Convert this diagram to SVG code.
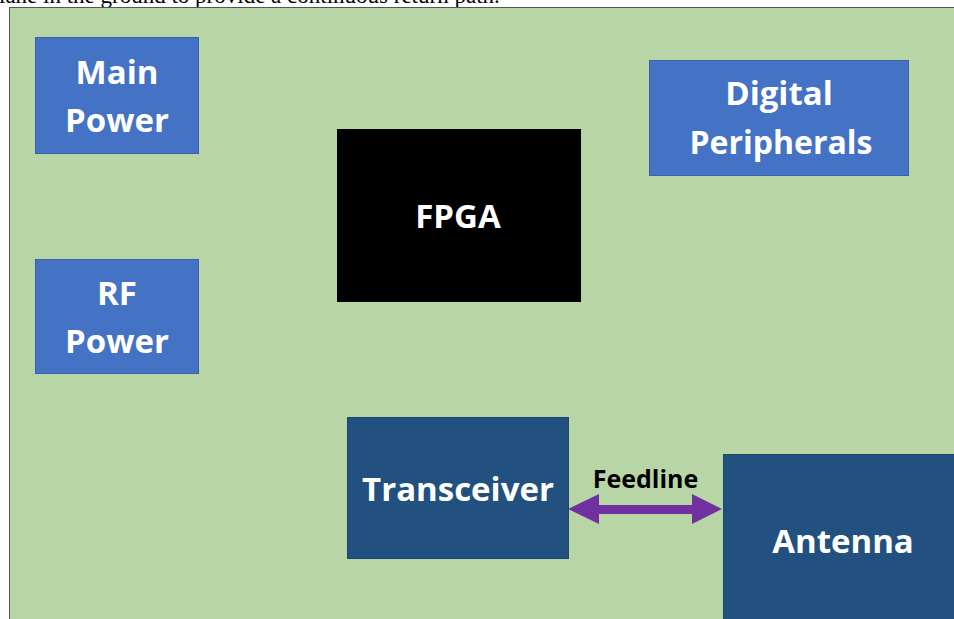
<svg xmlns="http://www.w3.org/2000/svg" width="954" height="619" viewBox="0 0 954 619">
<style>
.lbl{font-family:"Open Sans","Liberation Sans",sans-serif;font-weight:bold;font-size:33px;fill:#ffffff;text-anchor:middle}
.light{fill:#4472c4;stroke:#3a62a8;stroke-width:1}
.dark{fill:#22507f;stroke:#1f4670;stroke-width:1}
.cap{font-family:"Liberation Serif","Times New Roman",serif;font-size:23px;fill:#000}
</style>
<rect x="0" y="0" width="954" height="619" fill="#ffffff"/>
<text class="cap" x="-1" y="3">lane in the ground to provide a continuous return path.</text>
<rect x="9.5" y="7.5" width="950" height="620" fill="#b8d6a5" stroke="#555" stroke-width="1"/>
<g id="main-power">
<rect class="light" x="35.5" y="37.5" width="163" height="116"/>
<text class="lbl" x="117" y="84">Main</text>
<text class="lbl" x="117" y="132">Power</text>
</g>
<g id="rf-power">
<rect class="light" x="35.5" y="259.5" width="163" height="114"/>
<text class="lbl" x="117" y="305">RF</text>
<text class="lbl" x="117" y="353">Power</text>
</g>
<g id="digital-peripherals">
<rect class="light" x="649.5" y="60.5" width="259" height="115"/>
<text class="lbl" x="779" y="105">Digital</text>
<text class="lbl" x="781" y="154" style="font-size:32px">Peripherals</text>
</g>
<g id="fpga">
<rect x="337" y="129" width="244" height="173" fill="#000"/>
<text class="lbl" x="458" y="228">FPGA</text>
</g>
<g id="transceiver">
<rect class="dark" x="347.5" y="417.5" width="221" height="141"/>
<text class="lbl" x="458" y="501">Transceiver</text>
</g>
<g id="antenna">
<rect class="dark" x="723.5" y="454.5" width="240" height="180"/>
<text class="lbl" x="843" y="553">Antenna</text>
</g>
<g id="connectors">
<polygon points="568,509 599,494 599,505 692,505 692,494 722,509 692,524 692,514 599,514 599,524" fill="#7030a0"/>
<text x="645.5" y="488" font-family="'Open Sans','Liberation Sans',sans-serif" font-weight="bold" font-size="25" fill="#000" text-anchor="middle">Feedline</text>
</g>
</svg>
